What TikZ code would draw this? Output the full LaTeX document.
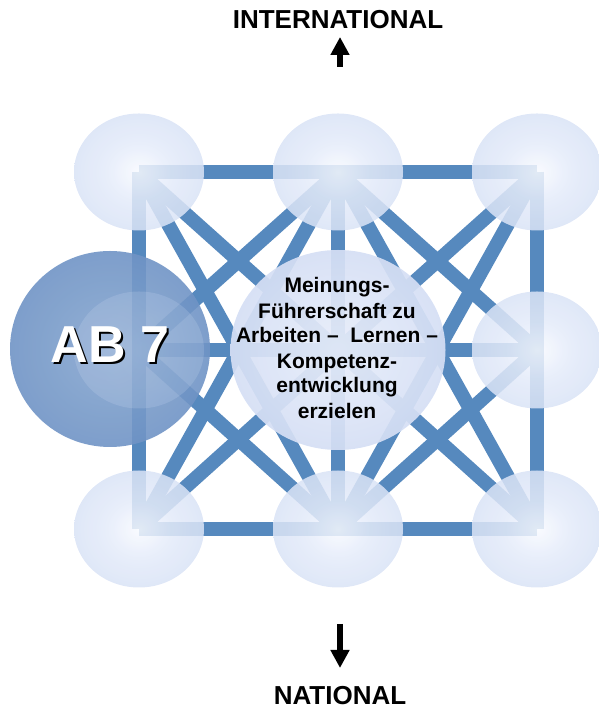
\documentclass[tikz,border=0pt]{standalone}
\usepackage{fontspec}
\setmainfont{Liberation Sans}
\usetikzlibrary{shapes.geometric,arrows.meta,backgrounds}
\definecolor{linkblue}{RGB}{86,137,190}
\definecolor{ballblue}{RGB}{192,208,239}
\definecolor{ballin}{RGB}{248,250,255}
\definecolor{abblue}{RGB}{88,130,186}
\definecolor{abin}{RGB}{135,166,208}
\definecolor{midblue}{RGB}{194,209,238}
\definecolor{midin}{RGB}{232,237,250}
\pgfdeclareradialshading{ballshade}{\pgfpoint{0bp}{0bp}}{color(0bp)=(ballin); color(12bp)=(ballin!65!ballblue); color(44bp)=(ballblue!85); color(50bp)=(ballblue); color(100bp)=(ballblue)}
\pgfdeclareradialshading{abshade}{\pgfpoint{0bp}{0bp}}{color(0bp)=(abin); color(50bp)=(abblue); color(100bp)=(abblue)}
\pgfdeclareradialshading{midshade}{\pgfpoint{0bp}{0bp}}{color(0bp)=(midin); color(50bp)=(midblue); color(100bp)=(midblue)}
\begin{document}
\begin{tikzpicture}[x=1pt,y=1pt,
		ball/.style={ellipse,minimum width=130pt,minimum height=117pt,inner sep=0pt,shading=ballshade,opacity=0.86},
		link/.style={draw=linkblue,line width=14pt},
		abtext/.style={font=\bfseries\fontsize{52}{52}\selectfont,text=white},
		dirtext/.style={font=\bfseries\fontsize{26}{30}\selectfont,anchor=base},
		dirarrow/.style={line width=5.5pt,-{Triangle[width=18pt,length=18pt]}}]
\useasboundingbox (0,0) rectangle (598,708);
% the nine balls of the grid
\node[ball] (tl) at (139,536) {};
\node[ball] (tm) at (338,536) {};
\node[ball] (tr) at (537,536) {};
\node[ball] (mr) at (537,358) {};
\node[ball] (bl) at (139,179) {};
\node[ball] (bm) at (338,179) {};
\node[ball] (br) at (537,179) {};
\node[ellipse,minimum width=200pt,minimum height=196pt,inner sep=0pt,shading=abshade,opacity=0.9] (ab) at (110,359) {};
\node[ball,opacity=0.18] (ml) at (139,358) {};
\node[abtext] (abname) at (110,362)
	{\makebox[0pt][l]{\hspace{2pt}\raisebox{-2pt}{\color{black}AB 7}}AB 7};
\node[ellipse,minimum width=215pt,minimum height=200pt,inner sep=0pt,shading=midshade,opacity=0.93] (c) at (338,358) {};
\node[align=center,font=\bfseries\fontsize{21}{25}\selectfont] (goal) at (337,360)
	{Meinungs-\\Führerschaft zu\\Arbeiten –~ Lernen –\\Kompetenz-\\entwicklung\\erzielen};
\begin{scope}[on background layer]
\foreach \a/\b in {tl/tm,tm/tr,ml/c,c/mr,bl/bm,bm/br,tl/ml,ml/bl,tm/c,c/bm,tr/mr,mr/br,
		tl/c,tr/c,bl/c,br/c,ml/tm,tm/mr,mr/bm,bm/ml,tl/bm,bl/tm,tr/bm,br/tm}
	\draw[link] (\a.center) -- (\b.center);
\end{scope}
% directions
\node[dirtext] (intl) at (338,679) {INTERNATIONAL};
\node[dirtext] (natl) at (340,4) {NATIONAL};
\coordinate (upfoot) at (340,641);
\coordinate (uptip) at (340,671);
\coordinate (downtop) at (340,84);
\coordinate (downtip) at (340,40);
\draw[dirarrow] (upfoot) -- (uptip);
\draw[dirarrow] (downtop) -- (downtip);
\end{tikzpicture}
\end{document}
